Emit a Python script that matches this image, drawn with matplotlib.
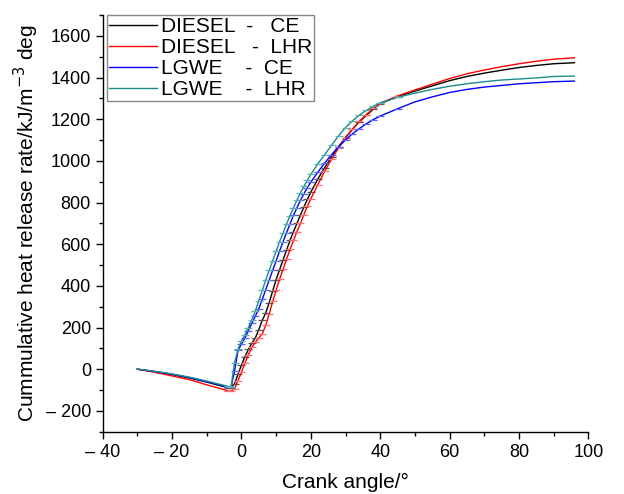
import matplotlib
matplotlib.use("Agg")
import matplotlib.pyplot as plt
from matplotlib.ticker import MultipleLocator

plt.rcParams['font.family'] = ['Liberation Sans', 'DejaVu Sans']

crank_angle = [-30, -25, -20, -15, -10, -5, -4, -3, -2, -1, 0, 1, 2, 3, 4, 5, 6, 7, 8, 9,
               10, 11, 12, 13, 14, 15, 16, 17, 18, 19, 20, 22, 24, 26, 28, 30, 32, 34,
               36, 38, 40, 45, 50, 55, 60, 65, 70, 75, 80, 85, 90, 96]

diesel_ce = [0, -12, -26, -42, -62, -84, -88, -92, -70, -25, 20, 60, 95, 125, 150, 190,
             235, 270, 320, 375, 430, 478, 525, 572, 618, 660, 700, 740, 778, 815, 850,
             912, 968, 1020, 1068, 1112, 1152, 1188, 1218, 1248, 1275, 1308, 1335, 1360,
             1385, 1405, 1421, 1435, 1448, 1458, 1466, 1471]

diesel_lhr = [0, -15, -32, -50, -75, -98, -104, -106, -95, -55, -15, 30, 70, 105, 130,
              150, 170, 210, 265, 325, 380, 432, 480, 528, 575, 618, 660, 700, 742, 782,
              818, 885, 950, 1008, 1062, 1110, 1152, 1190, 1222, 1252, 1276, 1312, 1340,
              1368, 1395, 1418, 1436, 1452, 1466, 1478, 1488, 1495]

lgwe_ce = [0, -11, -24, -40, -60, -80, -85, -86, -10, 90, 120, 150, 185, 220, 255, 290,
           335, 382, 428, 475, 520, 567, 612, 655, 697, 738, 775, 810, 842, 872, 898,
           945, 990, 1030, 1068, 1100, 1130, 1155, 1178, 1198, 1215, 1250, 1283, 1307,
           1328, 1343, 1354, 1362, 1370, 1375, 1380, 1383]

lgwe_lhr = [0, -10, -23, -38, -57, -78, -82, -84, 30, 95, 135, 165, 200, 238, 280, 328,
            378, 428, 475, 520, 567, 612, 655, 697, 737, 775, 811, 845, 877, 907, 935,
            985, 1030, 1075, 1120, 1160, 1192, 1220, 1242, 1262, 1278, 1305, 1325, 1343,
            1358, 1370, 1380, 1388, 1393, 1398, 1405, 1407]

series_labels = ["DIESEL  -   CE", "DIESEL   -  LHR", "LGWE    -  CE", "LGWE    -  LHR"]
series_colors = ["#000000", "#ff0000", "#0000ff", "#1a8c8c"]
marker_colors = ["#555555", "#ff7070", "#6060ff", "#60b0b0"]

xtick_values = [-40, -20, 0, 20, 40, 60, 80, 100]
xtick_labels = ["\u2013 40", "\u2013 20", "0", "20", "40", "60", "80", "100"]
ytick_values = [-200, 0, 200, 400, 600, 800, 1000, 1200, 1400, 1600]
ytick_labels = ["\u2013 200", "0", "200", "400", "600", "800", "1000", "1200", "1400", "1600"]

fig = plt.figure(figsize=(6.24, 4.94), dpi=100)
ax = fig.add_axes([0.1646, 0.1261, 0.7782, 0.8435])

all_series = [diesel_ce, diesel_lhr, lgwe_ce, lgwe_lhr]
for ys, lab, c, mc in zip(all_series, series_labels, series_colors, marker_colors):
    ax.plot(crank_angle, ys, color=c, lw=1.0, label=lab,
            marker='_', markersize=6, markeredgewidth=0.9, markeredgecolor=mc,
            markevery=list(range(6, 42)))

ax.set_xlim(-40, 100)
ax.set_ylim(-300, 1700)
ax.set_xticks(xtick_values)
ax.set_xticklabels(xtick_labels)
ax.set_yticks(ytick_values)
ax.set_yticklabels(ytick_labels)
ax.xaxis.set_minor_locator(MultipleLocator(10))
ax.yaxis.set_minor_locator(MultipleLocator(100))
ax.tick_params(which='major', direction='out', length=5, width=1, labelsize=13, colors='black')
ax.tick_params(which='minor', direction='out', length=3, width=1)
for s in ['top', 'right']:
    ax.spines[s].set_visible(False)
for s in ['left', 'bottom']:
    ax.spines[s].set_linewidth(1.0)

ax.set_xlabel("Crank angle/\u00b0", fontsize=15, labelpad=9)
ax.set_ylabel("Cummulative heat release rate/kJ/m$^{\u22123}$ deg", fontsize=15, labelpad=3)

leg = ax.legend(loc='upper left', bbox_to_anchor=(0.008, 1.0), fontsize=15,
                frameon=True, fancybox=False, edgecolor='#888888', framealpha=1,
                handlelength=2.3, handletextpad=0.2, borderpad=0.1, labelspacing=0.1,
                borderaxespad=0.0)
leg.get_frame().set_linewidth(1.0)
for h in leg.get_lines():
    h.set_marker('')

fig.savefig("out.png", dpi=100)
